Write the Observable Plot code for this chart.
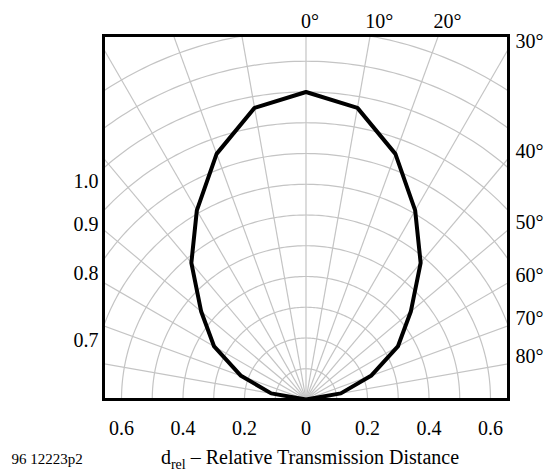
<!DOCTYPE html>
<html>
<head>
<meta charset="utf-8">
<script src="https://cdn.jsdelivr.net/npm/d3@7"></script>
<script src="https://cdn.jsdelivr.net/npm/@observablehq/plot@0.6"></script>
<style>
  html, body { margin: 0; padding: 0; background: #fff; }
</style>
</head>
<body>
<div id="chart"></div>
<script>
// ---- data ----
const angles = [-90, -80, -70, -60, -50, -40, -30, -20, -10, 0, 10, 20, 30, 40, 50, 60, 70, 80, 90];
const distance = [0, 0.115, 0.225, 0.345, 0.445, 0.58, 0.71, 0.85, 0.963, 1.0, 0.963, 0.85, 0.71, 0.58, 0.445, 0.345, 0.225, 0.115, 0];
const gridRadii = [0.1, 0.2, 0.3, 0.4, 0.5, 0.6, 0.7, 0.8, 0.9, 1.0, 1.1, 1.2];
const gridAngles = [-80, -70, -60, -50, -40, -30, -20, -10, 0, 10, 20, 30, 40, 50, 60, 70, 80];
const topAngleLabels = [0, 10, 20];
const rightAngleLabels = [30, 40, 50, 60, 70, 80];
const leftRadiusLabels = [1.0, 0.9, 0.8, 0.7];
const xTicks = [-0.6, -0.4, -0.2, 0, 0.2, 0.4, 0.6];
const xTitleMain = "d";
const xTitleSub = "rel";
const xTitleRest = " – Relative Transmission Distance";
const caption = "96 12223p2";

// ---- layout ----
const W = 554, H = 472;
const mL = 103, mR = 46, mT = 35, mB = 73;
const pxPerUnit = 307.5;
const XMAX = (W - mL - mR) / 2 / pxPerUnit;
const YMAX = (H - mT - mB) / pxPerUnit;
const rad = d => d * Math.PI / 180;

const curve = angles.map((a, i) => ({a, d: distance[i]}));
const circlePts = [];
for (const r of gridRadii) for (let a = -90; a <= 90; a += 1) circlePts.push({r, a});

const FONT = "'Liberation Serif', 'Times New Roman', serif";
const TITLE_KEY = "__TITLE__";

const svg = Plot.plot({
  width: W, height: H,
  marginLeft: mL, marginRight: mR, marginTop: mT, marginBottom: mB,
  x: {domain: [-XMAX, XMAX]},
  y: {domain: [0, YMAX], axis: null},
  style: {fontFamily: FONT, fontSize: "20px", background: "#fff", color: "#000"},
  marks: [
    Plot.line(circlePts, {
      x: p => p.r * Math.sin(rad(p.a)), y: p => p.r * Math.cos(rad(p.a)), z: "r",
      stroke: "#c4c4c4", strokeWidth: 1.2, clip: true
    }),
    Plot.link(gridAngles, {
      x1: 0, y1: 0,
      x2: a => 2 * Math.sin(rad(a)), y2: a => 2 * Math.cos(rad(a)),
      stroke: "#c4c4c4", strokeWidth: 1.2, clip: true
    }),
    Plot.line(curve, {
      x: p => p.d * Math.sin(rad(p.a)), y: p => p.d * Math.cos(rad(p.a)),
      stroke: "#000", strokeWidth: 4, strokeLinejoin: "miter", strokeLinecap: "butt", clip: true
    }),
    Plot.frame({stroke: "#000", strokeWidth: 3}),
    Plot.axisX({
      ticks: xTicks, tickSize: 0, tickPadding: 21,
      tickFormat: d => d === 0 ? "0" : Math.abs(d).toFixed(1),
      fontSize: 20, label: null
    }),
    Plot.text(topAngleLabels, {
      x: a => YMAX * Math.tan(rad(a)), y: YMAX, text: a => a + "°",
      textAnchor: "start", lineAnchor: "bottom", dx: -5, dy: -8, fontSize: 20
    }),
    Plot.text(rightAngleLabels, {
      x: XMAX, y: a => XMAX / Math.tan(rad(a)), text: a => a + "°",
      textAnchor: "start", lineAnchor: "middle", dx: 7, dy: -7, fontSize: 20
    }),
    Plot.text(leftRadiusLabels, {
      x: -XMAX, y: r => Math.sqrt(r * r - XMAX * XMAX), text: r => r.toFixed(1),
      textAnchor: "end", lineAnchor: "middle", dx: -5, dy: 14, fontSize: 20
    }),
    Plot.text([caption], {
      frameAnchor: "bottom-left", text: d => d, textAnchor: "start", lineAnchor: "bottom",
      dx: -92, dy: 64, fontSize: 15
    }),
    Plot.text([TITLE_KEY], {
      frameAnchor: "bottom", text: d => d, textAnchor: "middle", lineAnchor: "bottom",
      dx: 4, dy: 64, fontSize: 20
    })
  ]
});

// render the axis title with a real subscript
d3.select(svg).selectAll("text").filter(function () { return this.textContent === TITLE_KEY; })
  .each(function () {
    const t = d3.select(this);
    t.text(null);
    t.append("tspan").text(xTitleMain);
    t.append("tspan").attr("font-size", 14).attr("dy", 5).text(xTitleSub);
    t.append("tspan").attr("dy", -5).text(xTitleRest);
  });

document.getElementById("chart").appendChild(svg);
</script>
</body>
</html>
